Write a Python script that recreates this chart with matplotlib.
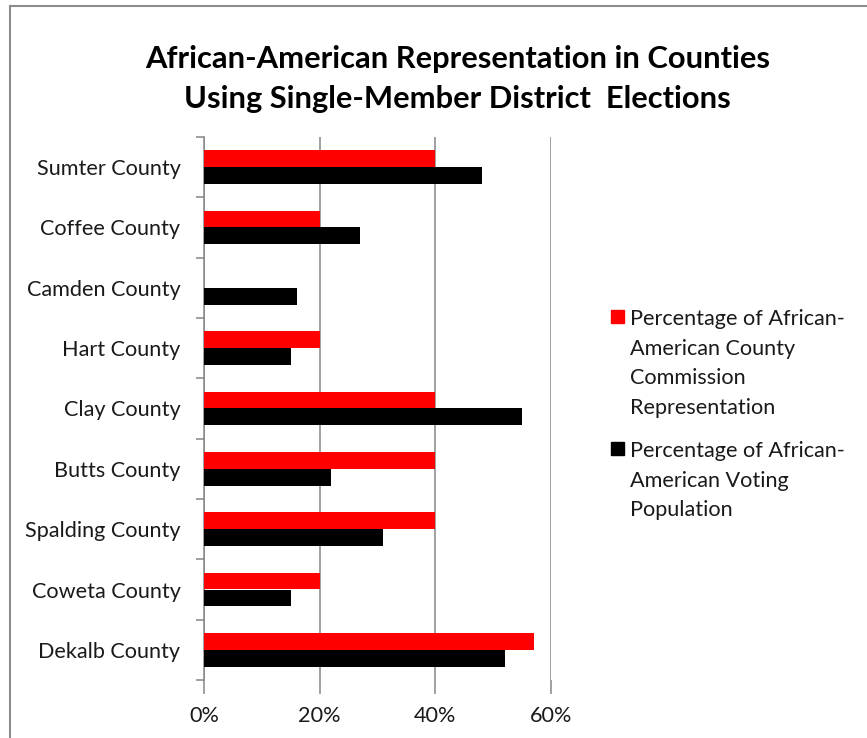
import matplotlib
matplotlib.use("Agg")
import matplotlib.pyplot as plt
from matplotlib.patches import Rectangle
import numpy as np

categories = ["Sumter County", "Coffee County", "Camden County", "Hart County",
              "Clay County", "Butts County", "Spalding County", "Coweta County",
              "Dekalb County"]
commission_pct = [40, 20, 0, 20, 40, 40, 40, 20, 57]
voting_pct = [48, 27, 16, 15, 55, 22, 31, 15, 52]
xticks = [0, 20, 40, 60]
xtick_labels = ["0%", "20%", "40%", "60%"]
legend_labels = ["Percentage of African-\nAmerican County\nCommission\nRepresentation",
                 "Percentage of African-\nAmerican Voting\nPopulation"]
title = "African-American Representation in Counties\nUsing Single-Member District  Elections"

plt.rcParams['font.family'] = ['Lato', 'DejaVu Sans']
W, H = 867, 738
fig = plt.figure(figsize=(W / 100, H / 100), dpi=100)

def fx(px): return px / W
def fy(py): return 1 - py / H

ax = fig.add_axes([fx(204), fy(680), fx(551) - fx(204), fy(137) - fy(680)])

grid_c = "#868686"
txt_c = "#1a1a1a"
fs = 15.6
y = np.arange(len(categories))
bh = 0.28
ax.barh(y - bh / 2, commission_pct, height=bh, color="#FF0000", zorder=3)
ax.barh(y + bh / 2, voting_pct, height=bh, color="#000000", zorder=3)

ax.set_xlim(0, 60)
ax.set_ylim(len(categories) - 0.5, -0.5)
ax.set_xticks(xticks)
ax.set_xticklabels(xtick_labels, fontsize=fs, color=txt_c)
ax.xaxis.grid(True, color=grid_c, linewidth=1.1, zorder=0)
ax.tick_params(axis="x", length=10, color=grid_c, width=1.1, pad=8.5)

ax.set_yticks(np.arange(-0.5, len(categories), 1.0))
ax.set_yticklabels([])
ax.tick_params(axis="y", which="major", length=6, color=grid_c, width=1.1)
ax.set_yticks(y, minor=True)
ax.set_yticklabels(categories, minor=True, fontsize=fs, color=txt_c)
ax.tick_params(axis="y", which="minor", length=0, pad=17)

for s in ["top", "right", "bottom"]:
    ax.spines[s].set_visible(False)
ax.spines["left"].set_color(grid_c)
ax.spines["left"].set_linewidth(1.1)

fig.text(fx(457.5), fy(79), title, ha="center", va="center", fontsize=22.2,
         fontweight="bold", linespacing=1.55, color="#000000")

# legend
lx_txt = 630
entries = [(310, "#FF0000", legend_labels[0]), (442, "#000000", legend_labels[1])]
for ty, col, lab in entries:
    fig.patches.append(Rectangle((fx(611), fy(ty + 12.5)), fx(12.5), 12.5 / H,
                                 transform=fig.transFigure, color=col))
    fig.text(fx(lx_txt), fy(ty - 1), lab, ha="left", va="top", fontsize=fs,
             linespacing=1.6, color=txt_c)

# chart border (top and left)
fig.add_artist(plt.Line2D([fx(9.5), fx(866)], [fy(5.5), fy(5.5)], transform=fig.transFigure,
                          color="#8c8c8c", linewidth=1.5))
fig.add_artist(plt.Line2D([fx(9.5), fx(9.5)], [fy(5.5), 0], transform=fig.transFigure,
                          color="#8c8c8c", linewidth=1.5))

fig.savefig("out.png", dpi=100)
